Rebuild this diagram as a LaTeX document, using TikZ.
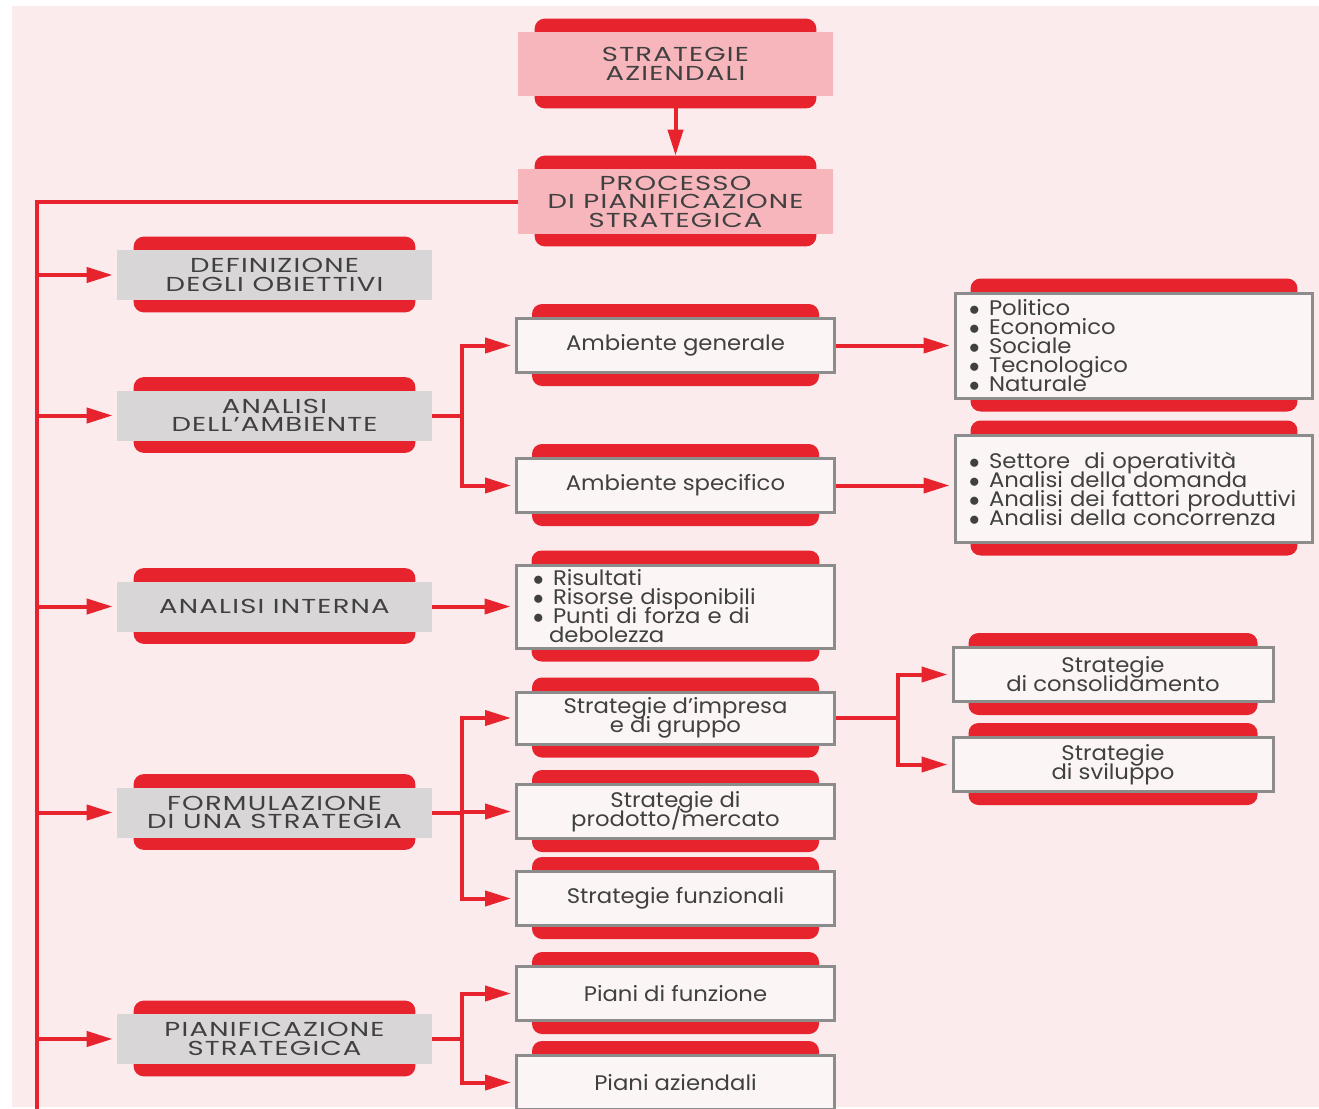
\documentclass[tikz,border=0pt]{standalone}
\usepackage{fontspec}
\setmainfont{Poppins}[FakeStretch=1.08]
\newfontfamily\capsfam{Poppins}[FakeStretch=1.36,LetterSpace=6]
\usetikzlibrary{arrows.meta,backgrounds}

\def\px{0.02cm}

\definecolor{bandred}{RGB}{231,35,46}
\definecolor{pagepink}{RGB}{252,235,237}
\definecolor{toppink}{RGB}{246,182,188}
\definecolor{leftgrey}{RGB}{216,214,214}
\definecolor{boxwhite}{RGB}{252,245,245}
\definecolor{framegrey}{RGB}{140,140,140}
\definecolor{inkgrey}{RGB}{64,64,64}

\newcommand{\capsize}{\capsfam\fontsize{11.5pt}{10.5pt}\selectfont\lineskiplimit=-20pt}
\newcommand{\midsize}{\fontsize{12pt}{10.8pt}\selectfont\lineskiplimit=-20pt}
\newcommand{\listsize}{\fontsize{12pt}{10.8pt}\selectfont\lineskiplimit=-20pt\hyphenpenalty=10000}
\newcommand{\itm}{\makebox[0.4cm][l]{$\bullet$}}

\begin{document}
\begin{tikzpicture}
	[x=\px,y=-\px,
	box/.style={rectangle,inner sep=0pt,align=center,text=inkgrey},
	top box/.style={box,fill=toppink,minimum width=315*\px,minimum height=64*\px,font=\capsize},
	left box/.style={box,fill=leftgrey,minimum width=315*\px,minimum height=50*\px,font=\capsize},
	mid box/.style={box,fill=boxwhite,draw=framegrey,line width=3*\px,minimum width=318*\px,minimum height=54*\px,font=\midsize},
	list box/.style={mid box,align=left,font=\listsize,inner xsep=0.34cm},
	band/.style={fill=bandred,rounded corners=10*\px},
	conn/.style={draw=bandred,line width=4*\px},
	arr/.style={conn,-{Triangle[length=0.52cm,width=0.3cm]},shorten >=0.08cm}]
	\useasboundingbox (0,0) rectangle (1319,1109);
	
	% top of the chart
	\node[top box] (sa) at (675.5,64) {STRATEGIE\\AZIENDALI};
	\node[top box,minimum height=65*\px] (pps) at (675.5,201.5) {PROCESSO\\DI PIANIFICAZIONE\\STRATEGICA};
	
	% left column
	\node[left box] (dob) at (274.5,275) {DEFINIZIONE\\DEGLI OBIETTIVI};
	\node[left box] (ada) at (274.5,415.5) {ANALISI\\DELL’AMBIENTE};
	\node[left box] (ai) at (274.5,606.5) {ANALISI INTERNA};
	\node[left box] (fus) at (274.5,812.5) {FORMULAZIONE\\DI UNA STRATEGIA};
	\node[left box] (pst) at (274.5,1039) {PIANIFICAZIONE\\STRATEGICA};
	
	% middle column
	\node[mid box] (ag) at (675.5,345.5) {Ambiente generale};
	\node[mid box] (as) at (675.5,485.5) {Ambiente specifico};
	\node[list box,minimum height=83*\px,text width=5.7cm] (ris) at (675.5,606.5)
		{\itm Risultati\\\itm Risorse disponibili\\\itm Punti di forza e di\\\hspace*{0.32cm}debolezza};
	\node[mid box,minimum height=52*\px] (sig) at (675.5,718) {Strategie d’impresa\\e di gruppo};
	\node[mid box] (spm) at (675.5,811.5) {Strategie di\\prodotto/mercato};
	\node[mid box] (sf) at (675.5,898.5) {Strategie funzionali};
	\node[mid box] (pf) at (675.5,993.5) {Piani di funzione};
	\node[mid box] (paz) at (675.5,1082.5) {Piani aziendali};
	
	% right column
	\node[list box,minimum height=105*\px,inner xsep=0.28cm,text width=6.6cm] (pol) at (1134,345.5)
		{\itm Politico\\\itm Economico\\\itm Sociale\\\itm Tecnologico\\\itm Naturale};
	\node[list box,minimum height=107*\px,inner xsep=0.28cm,text width=6.6cm] (sett) at (1134,488.5)
		{\itm Settore~ di operatività\\\itm Analisi della domanda\\\itm \mbox{Analisi dei fattori produttivi}\\\itm Analisi della concorrenza};
	\node[mid box,minimum width=320*\px] (scon) at (1113,674.5) {Strategie\\di consolidamento};
	\node[mid box,minimum width=320*\px] (ssv) at (1113,764.5) {Strategie\\di sviluppo};
	
	% red bands behind the boxes
	\begin{scope}[on background layer]
		\fill[white] (0,0) rectangle (1319,1109);
		\fill[pagepink] (12,6) rectangle (1319,1107);
		\foreach \b in {sa,pps,dob,ada,ai,fus,pst,ag,as,ris,sig,spm,sf,pf,paz,pol,sett,scon,ssv}
			\fill[band] ([xshift=0.34cm,yshift=0.26cm]\b.north west) rectangle ([xshift=-0.34cm,yshift=-0.24cm]\b.south east);
	\end{scope}
	
	% connectors
	\coordinate (trunk) at (37,1109);
	\coordinate (spa) at (462,415.5);
	\coordinate (spf) at (462,812.5);
	\coordinate (spp) at (462,1039);
	\coordinate (spi) at (898,718);
	
	\draw[arr,shorten <=0.22cm,shorten >=0.26cm] (sa) -- (pps);
	\draw[conn] (pps.west) -| (trunk);
	\foreach \b in {dob,ada,ai,fus,pst}
		\draw[arr] (trunk |- \b.west) -- (\b.west);
	
	\draw[conn] (ada) -- (spa);
	\draw[arr] (spa) |- (ag.west);
	\draw[arr] (spa) |- (as.west);
	\draw[arr] (ag) -- (pol);
	\draw[arr] (as.east) -- (as.east -| sett.west);
	
	\draw[arr] (ai) -- (ris);
	
	\draw[conn] (fus) -- (spf);
	\draw[arr] (spf) |- (sig.west);
	\draw[arr] (spf) |- (spm.west);
	\draw[arr] (spf) |- (sf.west);
	\draw[conn] (sig) -- (spi);
	\draw[arr] (spi) |- (scon.west);
	\draw[arr] (spi) |- (ssv.west);
	
	\draw[conn] (pst) -- (spp);
	\draw[arr] (spp) |- (pf.west);
	\draw[arr] (spp) |- (paz.west);
\end{tikzpicture}
\end{document}
